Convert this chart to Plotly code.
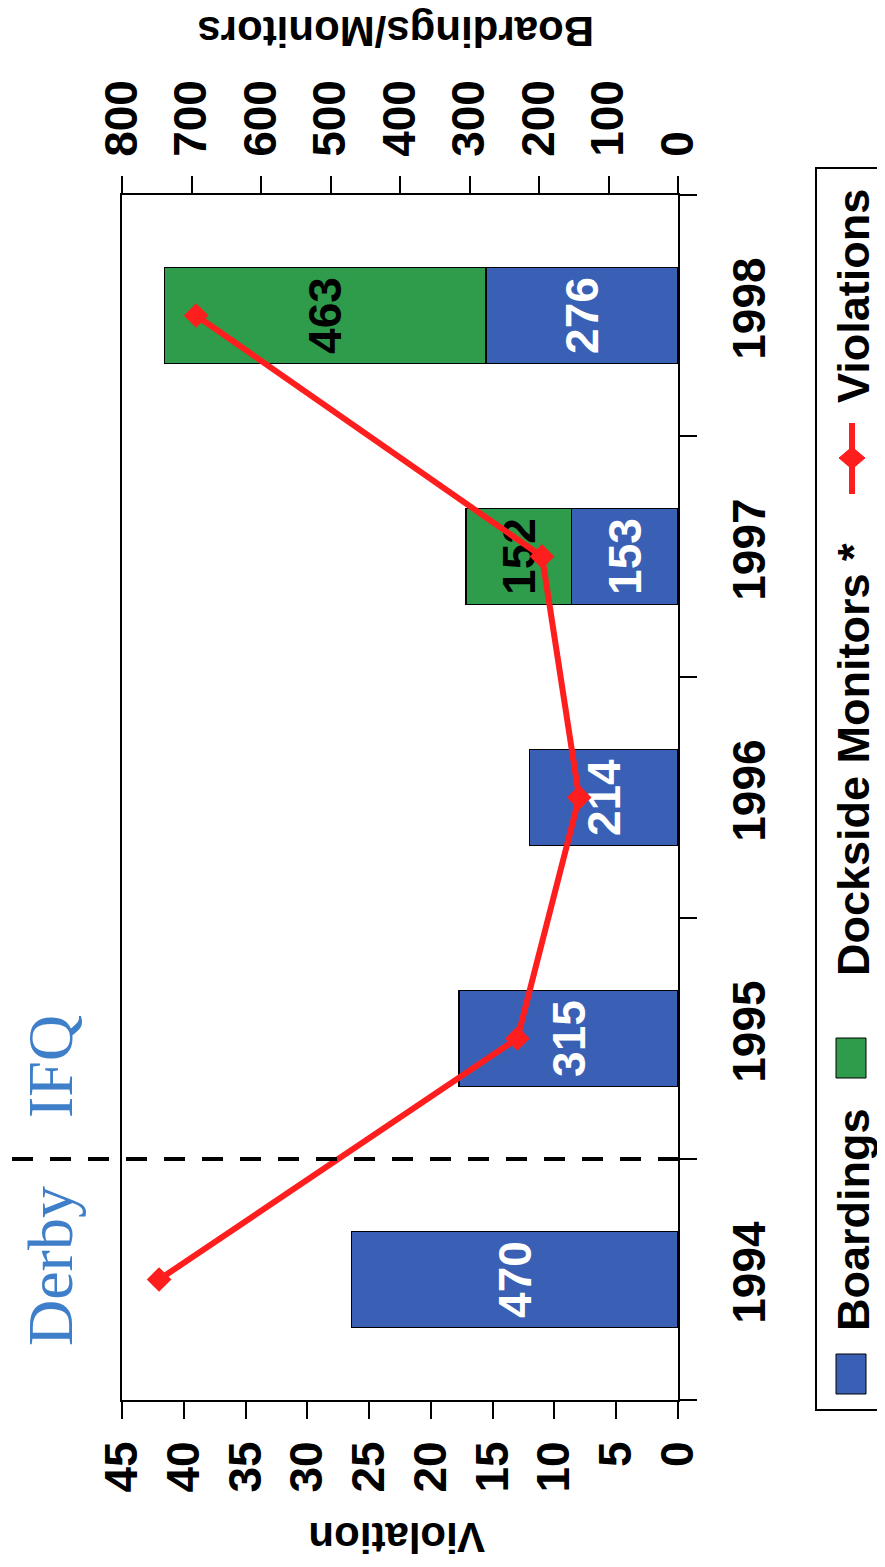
import plotly.graph_objects as go

# ---------------- data ----------------
years = ["1994", "1995", "1996", "1997", "1998"]
boardings = [470, 315, 214, 153, 276]
monitors = [None, None, None, 152, 463]
violations = [42, 13, 8, 11, 39]
violation_ticks = [0, 5, 10, 15, 20, 25, 30, 35, 40, 45]
boarding_ticks = [0, 100, 200, 300, 400, 500, 600, 700, 800]

# ---------------- style ----------------
FONT = "Liberation Sans"
SERIF = "Liberation Serif"
BLUE = "#3a60b6"
GREEN = "#2e9c4b"
RED = "#ff1e1e"
DERBY_BLUE = "#3f7fc9"

PAGE_W, PAGE_H = 885, 1567
OFF = 8  # default body margin of the page
W, H = PAGE_W - OFF, PAGE_H - OFF
# plot-area edges in page pixels
L, R, T, B = 122, 678, 195, 1400


def px(X):
    return (X - L) / (R - L)


def py(Y):
    return (B - Y) / (B - T)


fig = go.Figure()

fig.add_trace(go.Bar(
    y=years, x=boardings, orientation="h", xaxis="x", yaxis="y",
    width=0.4, name="Boardings",
    marker=dict(color=BLUE, line=dict(color="black", width=1.5)),
    text=[str(v) for v in boardings], textposition="inside",
    insidetextanchor="middle", textangle=-90, constraintext="none",
    textfont=dict(family=FONT, size=46, color="white", weight="bold"),
    showlegend=False, hoverinfo="skip",
))
fig.add_trace(go.Bar(
    y=years, x=monitors, orientation="h", xaxis="x", yaxis="y",
    width=0.4, name="Dockside Monitors *",
    marker=dict(color=GREEN, line=dict(color="black", width=1.5)),
    text=["" if v is None else str(v) for v in monitors], textposition="inside",
    insidetextanchor="middle", textangle=-90, constraintext="none",
    textfont=dict(family=FONT, size=46, color="black", weight="bold"),
    showlegend=False, hoverinfo="skip",
))
fig.add_trace(go.Scatter(
    y=years, x=violations, xaxis="x2", yaxis="y", mode="lines+markers",
    name="Violations",
    line=dict(color=RED, width=6),
    marker=dict(symbol="diamond", size=19, color=RED),
    showlegend=False, hoverinfo="skip",
))

tickfont = dict(family=FONT, size=46, color="black", weight="bold")
axis_common = dict(
    ticks="outside", ticklen=17, tickwidth=2, tickcolor="black",
    showline=True, linecolor="black", linewidth=2,
    showgrid=False, zeroline=False, tickangle=-90, tickfont=tickfont,
)

fig.update_layout(
    width=W, height=H, autosize=False,
    margin=dict(l=L - OFF, r=PAGE_W - R, t=T - OFF, b=PAGE_H - B, pad=0),
    paper_bgcolor="white", plot_bgcolor="white",
    barmode="stack", showlegend=False,
    xaxis=dict(range=[800, 0], side="top", tickvals=boarding_ticks,
               ticklabelstandoff=10, **axis_common),
    xaxis2=dict(range=[45, 0], side="bottom", overlaying="x",
                tickvals=violation_ticks, ticklabelstandoff=4, **axis_common),
    yaxis=dict(type="category", categoryorder="array", categoryarray=years,
               range=[-0.5, 4.5], side="right", tickson="boundaries",
               mirror=True, ticklabelstandoff=30, **axis_common),
)

# axis line overhangs (original chart's axis lines extend past the frame)
for yy in (0, 1):
    fig.add_shape(type="line", xref="paper", yref="paper",
                  x0=1, x1=px(697), y0=yy, y1=yy,
                  line=dict(color="black", width=2))

# Derby / IFQ divider
fig.add_shape(type="line", xref="paper", yref="y",
              x0=px(12), x1=px(692), y0=0.5, y1=0.5,
              line=dict(color="black", width=4, dash="21px,17px"))

ann = []
ann.append(dict(text="Boardings/Monitors", x=px(396), y=py(32), textangle=180,
                font=dict(family=FONT, size=42, color="black", weight="bold")))
ann.append(dict(text="Violation", x=px(397), y=py(1538), textangle=180,
                font=dict(family=FONT, size=42, color="black", weight="bold")))
ann.append(dict(text="Derby", x=px(50), y=py(1266), textangle=-90,
                font=dict(family=SERIF, size=64, color=DERBY_BLUE)))
ann.append(dict(text="IFQ", x=px(50), y=py(1067), textangle=-90,
                font=dict(family=SERIF, size=64, color=DERBY_BLUE)))

# manual rotated legend
LEG_X = 853
legfont = dict(family=FONT, size=45, color="black", weight="bold")
fig.add_shape(type="rect", xref="paper", yref="paper",
              x0=px(816), x1=px(890), y0=py(1410), y1=py(168),
              line=dict(color="black", width=2), fillcolor="white", layer="below")
ann.append(dict(text="Violations", x=px(LEG_X), y=py(296), textangle=-90, font=legfont))
fig.add_shape(type="line", xref="paper", yref="paper",
              x0=px(852), x1=px(852), y0=py(423), y1=py(494),
              line=dict(color=RED, width=6))
# legend diamond marker
DX, DY, CY = 13, 11, 458
diamond = "M {a},{b} L {c},{d} L {e},{f} L {g},{h} Z".format(
    a=px(852 - DX), b=py(CY), c=px(852), d=py(CY - DY),
    e=px(852 + DX), f=py(CY), g=px(852), h=py(CY + DY))
fig.add_shape(type="path", xref="paper", yref="paper", path=diamond,
              fillcolor=RED, line=dict(color=RED, width=1))
ann.append(dict(text="Dockside Monitors *", x=px(LEG_X), y=py(760), textangle=-90, font=legfont))
fig.add_shape(type="rect", xref="paper", yref="paper",
              x0=px(836), x1=px(866), y0=py(1078), y1=py(1038),
              line=dict(color="black", width=1), fillcolor=GREEN)
ann.append(dict(text="Boardings", x=px(LEG_X), y=py(1220), textangle=-90, font=legfont))
fig.add_shape(type="rect", xref="paper", yref="paper",
              x0=px(836), x1=px(866), y0=py(1394), y1=py(1354),
              line=dict(color="black", width=1), fillcolor=BLUE)

for a in ann:
    a.update(xref="paper", yref="paper", showarrow=False,
             xanchor="center", yanchor="middle")
fig.update_layout(annotations=ann)

fig.write_html("out.html")
